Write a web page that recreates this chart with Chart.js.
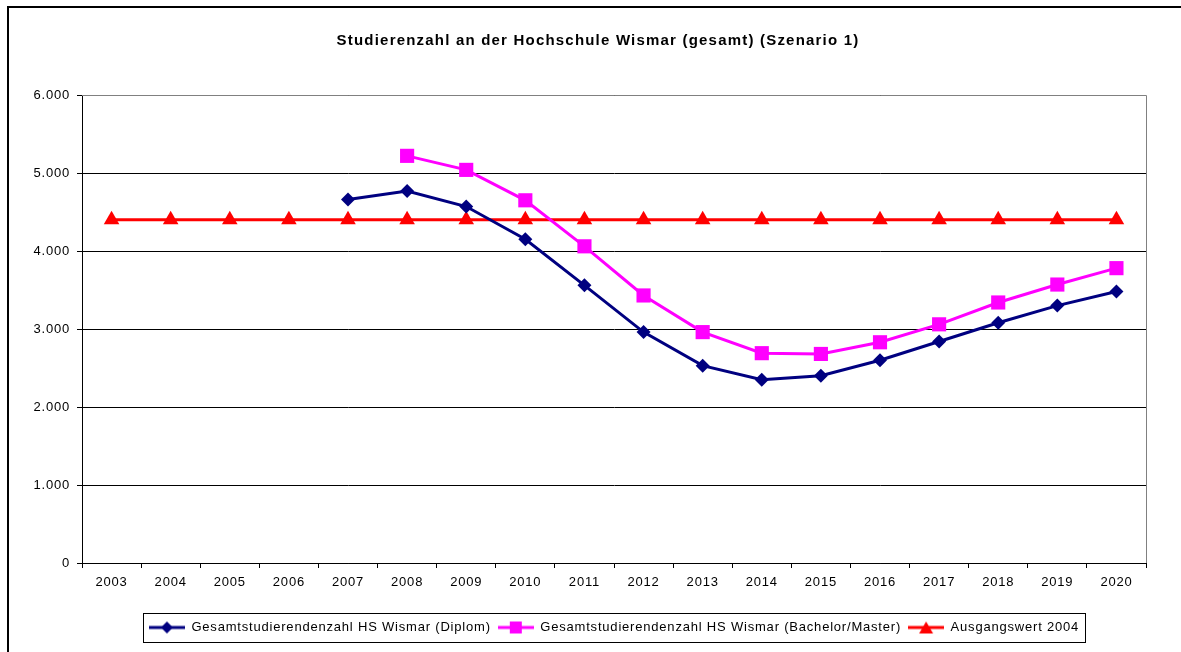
<!DOCTYPE html>
<html>
<head>
<meta charset="utf-8">
<script src="https://cdn.jsdelivr.net/npm/chart.js@4/dist/chart.umd.min.js"></script>
<style>
body { margin: 0; background: #fff; overflow: hidden; }
#wrap { position: absolute; left: 0; top: 0; width: 1198px; height: 652px; }
</style>
</head>
<body>
<div id="wrap"><canvas id="chart-studierende"></canvas></div>
<script>
var years = ['2003', '2004', '2005', '2006', '2007', '2008', '2009', '2010', '2011',
             '2012', '2013', '2014', '2015', '2016', '2017', '2018', '2019', '2020'];
var diplom = [null, null, null, null, 4660, 4770, 4570, 4150, 3560, 2960, 2530, 2350, 2400, 2600, 2840, 3080, 3300, 3480];
var bachelorMaster = [null, null, null, null, null, 5220, 5040, 4650, 4060, 3430, 2960, 2690, 2680, 2830, 3060, 3340, 3570, 3780];
var ausgangswert = [4400, 4400, 4400, 4400, 4400, 4400, 4400, 4400, 4400, 4400, 4400, 4400, 4400, 4400, 4400, 4400, 4400, 4400];

var chartTitle = 'Studierenzahl an der Hochschule Wismar (gesamt) (Szenario 1)';
var seriesNames = ['Gesamtstudierendenzahl HS Wismar (Diplom)', 'Gesamtstudierendenzahl HS Wismar (Bachelor/Master)', 'Ausgangswert 2004'];
var colors = ['#000080', '#FF00FF', '#FF0000'];
var styles = ['rectRot', 'rect', 'triangle'];

// legend icon: short line with the marker in the middle
function makeIcon(color, style) {
    var c = document.createElement('canvas');
    c.width = 36; c.height = 14;
    var ctx = c.getContext('2d');
    ctx.strokeStyle = color;
    ctx.fillStyle = color;
    ctx.lineWidth = 3;
    ctx.beginPath(); ctx.moveTo(0, 7); ctx.lineTo(36, 7); ctx.stroke();
    ctx.beginPath();
    if (style == 'rectRot') {
        ctx.moveTo(18, 1); ctx.lineTo(24, 7); ctx.lineTo(18, 13); ctx.lineTo(12, 7);
    } else if (style == 'rect') {
        ctx.rect(12, 1, 12, 12);
    } else {
        ctx.moveTo(18, 1); ctx.lineTo(25, 13); ctx.lineTo(11, 13);
    }
    ctx.closePath(); ctx.fill();
    return c;
}
var legendIcons = [makeIcon(colors[0], styles[0]), makeIcon(colors[1], styles[1]), makeIcon(colors[2], styles[2])];

function thousands(v) {
    return String(v).replace(/\B(?=(\d{3})+(?!\d))/g, '.');
}

var framePlugin = {
    id: 'frame',
    beforeUpdate: function (chart) {
        // the original text is spaced out a bit
        chart.ctx.letterSpacing = '0.8px';
    },
    afterLayout: function (chart) {
        // centre the legend under the plot, not under the whole canvas
        var shift = ((chart.chartArea.left + chart.chartArea.right) - (chart.legend.left + chart.legend.right)) / 2;
        chart.legend.left += shift;
        chart.legend.right += shift;
    },
    beforeDatasetsDraw: function (chart) {
        var a = chart.chartArea, ctx = chart.ctx;
        ctx.save();
        ctx.strokeStyle = '#808080';
        ctx.lineWidth = 1;
        ctx.beginPath();
        ctx.moveTo(a.left, a.top + 0.5); ctx.lineTo(a.right + 0.5, a.top + 0.5);
        ctx.lineTo(a.right + 0.5, a.bottom);
        ctx.stroke();
        ctx.restore();
    },
    afterDraw: function (chart) {
        var ctx = chart.ctx;
        ctx.save();
        ctx.strokeStyle = '#000';
        ctx.lineWidth = 2;
        ctx.strokeRect(8, 7, 1300, 700);
        // title
        ctx.letterSpacing = '1.2px';
        ctx.font = 'bold 15px "Liberation Sans", Arial, sans-serif';
        ctx.fillStyle = '#000';
        ctx.textAlign = 'center';
        ctx.textBaseline = 'middle';
        ctx.fillText(chartTitle, 598, 41);
        // box round the legend
        var boxes = chart.legend.legendHitBoxes;
        if (boxes && boxes.length) {
            var l = boxes[0].left - 6, r = boxes[boxes.length - 1].left + boxes[boxes.length - 1].width + 6;
            var t = boxes[0].top - 8, h = boxes[0].height + 16;
            ctx.lineWidth = 1;
            ctx.strokeRect(Math.round(l) + 0.5, Math.round(t) + 0.5, Math.round(r - l), Math.round(h));
        }
        ctx.restore();
    }
};

var dataStudierende = {
    labels: years,
    datasets: [
        { label: seriesNames[0], data: diplom, borderColor: colors[0], backgroundColor: colors[0],
          borderWidth: 3, pointStyle: 'rectRot', pointRadius: 7, pointHoverRadius: 7, pointBorderWidth: 0, tension: 0 },
        { label: seriesNames[1], data: bachelorMaster, borderColor: colors[1], backgroundColor: colors[1],
          borderWidth: 3, pointStyle: 'rect', pointRadius: 10, pointHoverRadius: 10, pointBorderWidth: 0, tension: 0 },
        { label: seriesNames[2], data: ausgangswert, borderColor: colors[2], backgroundColor: colors[2],
          borderWidth: 3, pointStyle: 'triangle', pointRadius: 9, pointHoverRadius: 9, pointBorderWidth: 0, tension: 0 }
    ]
};

Chart.defaults.font.family = '"Liberation Sans", Arial, sans-serif';
Chart.defaults.font.size = 13;
Chart.defaults.color = '#000';

var chartStudierende = new Chart(document.getElementById('chart-studierende').getContext('2d'), {
    type: 'line',
    data: dataStudierende,
    plugins: [framePlugin],
    options: {
        responsive: true,
        maintainAspectRatio: false,
        animation: false,
        spanGaps: false,
        layout: { padding: { left: 10, right: 52, top: 95, bottom: 8 } },
        plugins: {
            title: { display: false },
            legend: {
                position: 'bottom',
                labels: {
                    usePointStyle: true,
                    pointStyleWidth: 36,
                    boxHeight: 14,
                    padding: 7,
                    font: { size: 13 },
                    color: '#000',
                    generateLabels: function (chart) {
                        var items = Chart.defaults.plugins.legend.labels.generateLabels(chart);
                        items.forEach(function (it, i) { it.pointStyle = legendIcons[i]; });
                        return items;
                    }
                }
            },
            tooltip: { enabled: false }
        },
        scales: {
            x: {
                offset: true,
                grid: { offset: true, drawOnChartArea: false, drawTicks: true, tickLength: 5, color: '#000' },
                border: { color: '#000', width: 1 },
                ticks: { padding: 7, font: { size: 13 }, color: '#000' },
                afterFit: function (scale) { scale.height = 51; }
            },
            y: {
                min: 0,
                max: 6000,
                grid: { color: '#000', tickLength: 5, drawTicks: true },
                border: { color: '#000', width: 1 },
                ticks: { stepSize: 1000, padding: 7, font: { size: 13 }, color: '#000',
                         callback: function (v) { return thousands(v); } },
                afterFit: function (scale) { scale.width = 72; }
            }
        }
    }
});
</script>
</body>
</html>
